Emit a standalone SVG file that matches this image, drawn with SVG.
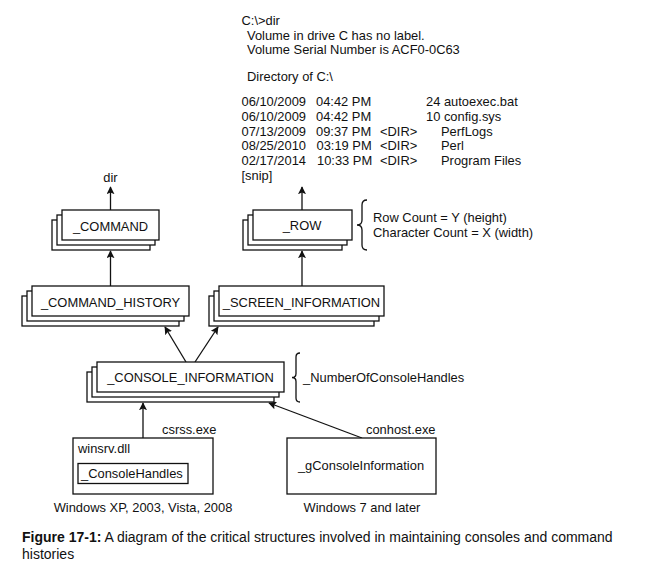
<svg xmlns="http://www.w3.org/2000/svg" width="647" height="567" viewBox="0 0 647 567">
<defs>
<style>
text{font-family:"Liberation Sans","Noto Sans",sans-serif;font-size:12.9px;fill:#111}
.box{fill:#fff;stroke:#111;stroke-width:1.3}
.mid{text-anchor:middle}
.con{stroke:#111;stroke-width:1.3;fill:none}
.cap{font-size:14px}
</style>
<marker id="ah" viewBox="0 0 10 10" refX="9" refY="5" markerWidth="8" markerHeight="8" markerUnits="userSpaceOnUse" orient="auto">
<path d="M0,0 L10,5 L0,10 L2,5 Z" fill="#111"/>
</marker>
</defs>
<rect width="647" height="567" fill="#fff"/>

<g id="dir-output">
<text>
<tspan x="241.5" y="25">C:\&gt;dir</tspan>
<tspan x="247" y="39.5">Volume in drive C has no label.</tspan>
<tspan x="247" y="54">Volume Serial Number is ACF0-0C63</tspan>
<tspan x="247" y="81">Directory of C:\</tspan>
<tspan x="241.5" y="106">06/10/2009</tspan><tspan x="316" y="106">04:42 PM</tspan><tspan x="426" y="106">24 autoexec.bat</tspan>
<tspan x="241.5" y="121">06/10/2009</tspan><tspan x="316" y="121">04:42 PM</tspan><tspan x="426" y="121">10 config.sys</tspan>
<tspan x="241.5" y="135.5">07/13/2009</tspan><tspan x="316" y="135.5">09:37 PM</tspan><tspan x="380" y="135.5">&lt;DIR&gt;</tspan><tspan x="441" y="135.5">PerfLogs</tspan>
<tspan x="241.5" y="150">08/25/2010</tspan><tspan x="316.5" y="150">03:19 PM</tspan><tspan x="380" y="150">&lt;DIR&gt;</tspan><tspan x="441" y="150">Perl</tspan>
<tspan x="241.5" y="165">02/17/2014</tspan><tspan x="317" y="165">10:33 PM</tspan><tspan x="380" y="165">&lt;DIR&gt;</tspan><tspan x="441" y="165">Program Files</tspan>
<tspan x="241.5" y="179.5">[snip]</tspan>
</text>
</g>

<text x="110.5" y="181.5" class="mid">dir</text>

<g id="connectors">
<line class="con" x1="110.5" y1="210" x2="110.5" y2="187" marker-end="url(#ah)"/>
<line class="con" x1="110.5" y1="286" x2="110.5" y2="251" marker-end="url(#ah)"/>
<line class="con" x1="302" y1="210" x2="302" y2="187" marker-end="url(#ah)"/>
<line class="con" x1="302" y1="286" x2="302" y2="251" marker-end="url(#ah)"/>
<line class="con" x1="186" y1="362" x2="165" y2="327" marker-end="url(#ah)"/>
<line class="con" x1="195" y1="362" x2="218" y2="327" marker-end="url(#ah)"/>
<line class="con" x1="143" y1="438" x2="143" y2="403" marker-end="url(#ah)"/>
<line class="con" x1="362" y1="438" x2="269" y2="403" marker-end="url(#ah)"/>
</g>

<g id="command">
<rect class="box" x="52" y="220" width="98" height="30"/>
<rect class="box" x="57" y="215" width="98" height="30"/>
<rect class="box" x="62" y="210" width="97" height="30"/>
<text x="110.5" y="230.5" class="mid">_COMMAND</text>
</g>

<g id="row">
<rect class="box" x="243" y="220" width="99" height="30"/>
<rect class="box" x="248" y="215" width="99" height="30"/>
<rect class="box" x="253" y="210" width="99" height="30"/>
<text x="302" y="230" class="mid">_ROW</text>
</g>

<g id="row-note">
<path class="con" d="M367,200 Q362,200 362,205 L362,220 Q362,225 357,225 Q362,225 362,230 L362,245 Q362,250 367,250"/>
<text><tspan x="373" y="222">Row Count = Y (height)</tspan><tspan x="373" y="237">Character Count = X (width)</tspan></text>
</g>

<g id="command-history">
<rect class="box" x="22" y="296" width="157" height="30"/>
<rect class="box" x="27" y="291" width="157" height="30"/>
<rect class="box" x="32" y="286" width="157" height="30"/>
<text x="110.5" y="306.5" class="mid">_COMMAND_HISTORY</text>
</g>

<g id="screen-information">
<rect class="box" x="209" y="296" width="165" height="30"/>
<rect class="box" x="214" y="291" width="165" height="30"/>
<rect class="box" x="219" y="286" width="165" height="30"/>
<text x="301.5" y="306.5" class="mid">_SCREEN_INFORMATION</text>
</g>

<g id="console-information">
<rect class="box" x="87" y="372" width="187" height="30"/>
<rect class="box" x="92" y="367" width="187" height="30"/>
<rect class="box" x="97" y="362" width="187" height="30"/>
<text x="190.5" y="382" class="mid">_CONSOLE_INFORMATION</text>
</g>

<g id="console-note">
<path class="con" d="M300,353 Q296,353 296,357 L296,373.5 Q296,377.5 292,377.5 Q296,377.5 296,381.5 L296,398 Q296,402 300,402"/>
<text x="303" y="382">_NumberOfConsoleHandles</text>
</g>

<g id="csrss">
<text x="162" y="434">csrss.exe</text>
<rect class="box" x="73" y="438" width="140" height="56"/>
<text x="78" y="453">winsrv.dll</text>
<rect class="box" x="78" y="463.5" width="110" height="20"/>
<text x="81" y="477.5">_ConsoleHandles</text>
<text x="143" y="512" class="mid">Windows XP, 2003, Vista, 2008</text>
</g>

<g id="conhost">
<text x="366" y="434">conhost.exe</text>
<rect class="box" x="287" y="438" width="149" height="56"/>
<text x="361" y="470" class="mid">_gConsoleInformation</text>
<text x="362" y="512" class="mid">Windows 7 and later</text>
</g>

<g id="caption">
<text class="cap"><tspan x="22" y="542"><tspan font-weight="bold">Figure 17-1:</tspan>  A diagram of the critical structures involved in maintaining consoles and command</tspan><tspan x="22" y="559">histories</tspan></text>
</g>
</svg>
